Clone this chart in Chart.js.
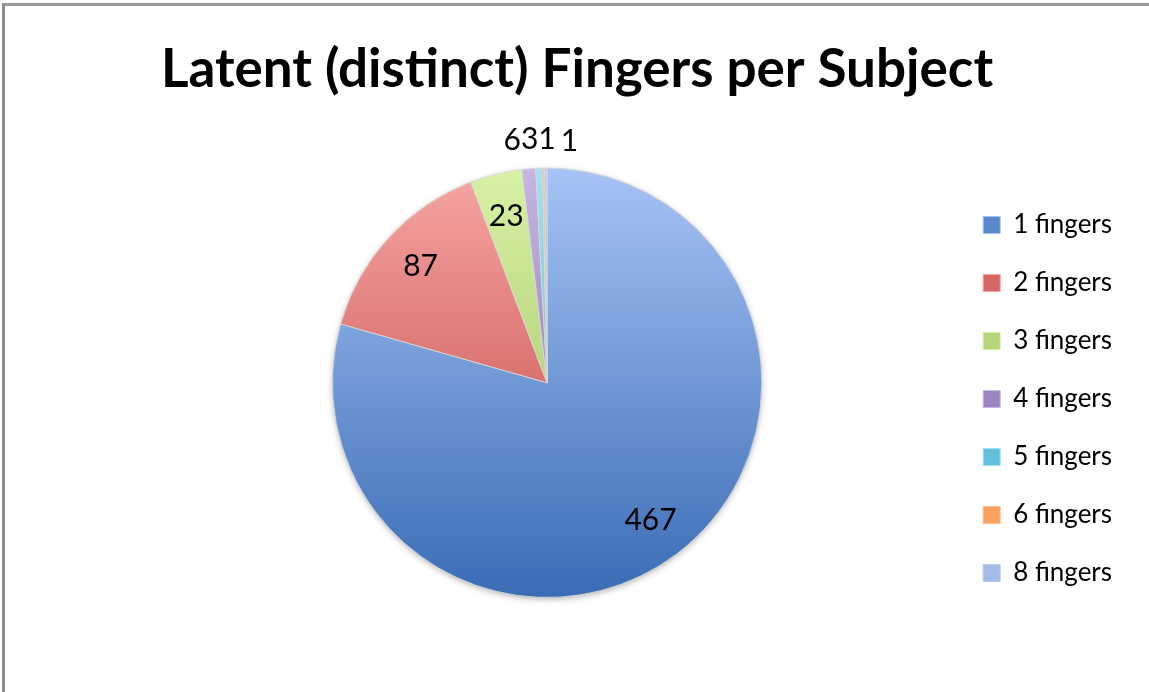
<!DOCTYPE html>
<html>
<head>
<meta charset="utf-8">
<script src="https://cdn.jsdelivr.net/npm/chart.js@4"></script>
<style>
  body { margin:0; background:#fff; }
  #frame { position:absolute; left:2px; top:3px; width:1147px; height:689px;
           border-top:3px solid #9a9a9a; border-left:3px solid #8c8c8c; box-sizing:border-box; }
  #wrap { position:absolute; left:0; top:0; width:1149px; height:692px; }
</style>
</head>
<body>
<div id="frame"></div>
<div id="wrap"><canvas id="pie"></canvas></div>
<script>
// valores
const labels = ['1 fingers','2 fingers','3 fingers','4 fingers','5 fingers','6 fingers','8 fingers'];
const counts = [467, 87, 23, 6, 3, 1, 1];

// colores (arriba claro, abajo oscuro) estilo Excel
const topCols = ['#a7c3f6','#f6a6a4','#d8f2a6','#c6b6e2','#a3e3f4','#ffc190','#b9cef4'];
const botCols = ['#3a6cb4','#bd3e3b','#98b955','#7a5f9f','#3ba5c2','#f18832','#88a4d8'];
const midCols = ['#5a88cc','#d76563','#b5d47c','#9c86bf','#62c0da','#f9a25f','#a3bbe7'];

const FONT = 'Lato, "Open Sans", sans-serif';

function grad(ctx, i){
  const ch = ctx.chart, a = ch.chartArea;
  if(!a) return midCols[i];
  const g = ch.ctx.createLinearGradient(0, a.top, 0, a.bottom);
  g.addColorStop(0, topCols[i]);
  g.addColorStop(1, botCols[i]);
  return g;
}

// huecos (izquierda y abajo) para colocar la tarta sin mover título ni leyenda
function gap(position, size){
  const horiz = position === 'top' || position === 'bottom';
  return {
    position, fullSize:false, weight:0, options:{},
    isHorizontal(){ return horiz; },
    update(w, h){ this.width = horiz ? w : size; this.height = horiz ? size : h; },
    draw(){}
  };
}
const spacer = {
  id:'spacer',
  beforeInit(chart){
    Chart.layouts.addBox(chart, gap('left', 111));
    Chart.layouts.addBox(chart, gap('bottom', 94));
  }
};

// sombra suave bajo la tarta
const shadow = {
  id:'shadow',
  beforeDatasetsDraw(chart){
    const arc = chart.getDatasetMeta(0).data[0];
    if(!arc) return;
    const c = chart.ctx;
    c.save();
    c.shadowColor = 'rgba(0,0,0,0.35)';
    c.shadowBlur = 7; c.shadowOffsetY = 2;
    c.fillStyle = '#fff';
    c.beginPath(); c.arc(arc.x, arc.y, arc.outerRadius - 1, 0, Math.PI*2); c.fill();
    c.restore();
  }
};

// etiquetas de valor
const valueLabels = {
  id:'valueLabels',
  afterDatasetsDraw(chart, args, opts){
    const meta = chart.getDatasetMeta(0);
    const total = counts.reduce((a,b)=>a+b,0);
    const c = chart.ctx;
    c.save();
    c.font = '30px ' + FONT;
    c.fillStyle = '#000';
    c.textAlign = 'center'; c.textBaseline = 'middle';
    const outside = [];
    meta.data.forEach((arc, i) => {
      const mid = (arc.startAngle + arc.endAngle)/2;
      const txt = String(counts[i]);
      if(counts[i]/total > 0.02){
        const r = arc.outerRadius*0.8;
        c.fillText(txt, arc.x + Math.cos(mid)*r, arc.y + Math.sin(mid)*r);
      } else {
        const r = arc.outerRadius + 29;
        outside.push({i, txt, w:c.measureText(txt).width, x:arc.x + Math.cos(mid)*r, y:arc.y + Math.sin(mid)*r});
      }
    });
    // separar horizontalmente las etiquetas que se pisan
    for(let k=0;k<30;k++){
      for(let j=0;j<outside.length-1;j++){
        const p = outside[j], q = outside[j+1];
        const need = (p.w+q.w)/2 - (q.x - p.x);
        if(need > 0){ p.x -= need/2; q.x += need/2; }
      }
    }
    outside.forEach(o => {
      const n = (opts.nudge || {})[o.i] || [0,0];
      c.fillText(o.txt, o.x + n[0], o.y + n[1]);
    });
    c.restore();
  }
};

new Chart(document.getElementById('pie'), {
  type:'pie',
  data:{ labels, datasets:[{
    data:counts,
    backgroundColor:(ctx)=>grad(ctx, ctx.dataIndex),
    borderColor:'rgba(215,215,215,0.9)',
    borderWidth:1
  }]},
  options:{
    responsive:true, maintainAspectRatio:false, animation:false,
    layout:{ padding:{ left:32, right:27, top:0, bottom:0 } },
    plugins:{
      title:{ display:true, text:'Latent (distinct) Fingers per Subject', color:'#000',
        font:{ family:FONT, size:53, weight:'bold' }, padding:{ top:38, bottom:66 } },
      legend:{ position:'right',
        title:{ display:true, text:' ', font:{ size:10 }, padding:{ top:47, bottom:47 } },
        labels:{ color:'#000', font:{ family:FONT, size:26 }, boxWidth:17, boxHeight:17, padding:32,
          generateLabels:(ch)=>labels.map((l,i)=>({ text:l, fillStyle:midCols[i], strokeStyle:topCols[i], fontColor:'#000', lineWidth:1, index:i, hidden:false })) } },
      valueLabels:{ nudge:{ 6:[5,2] } },
      tooltip:{ enabled:false }
    }
  },
  plugins:[spacer, shadow, valueLabels]
});
</script>
</body>
</html>
